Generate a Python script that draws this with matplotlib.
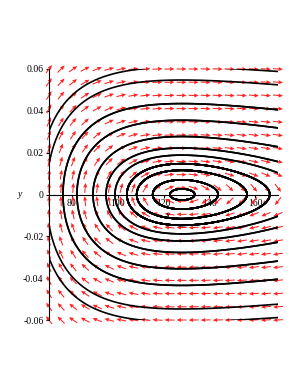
import numpy as np
import matplotlib.pyplot as plt

# phase plane: x' = y, y' = k*(x_eq/x^3 - 1/x^2)
k = 0.52
x_eq = 128.0

x_lim = [70, 170]
y_lim = [-0.06, 0.06]

# starting points of the trajectories drawn
start_x = [76.1, 82.2, 89.2, 94.9, 98.8, 104.0, 108.3, 115.3, 122.8, 70, 70]
start_y = [0, 0, 0, 0, 0, 0, 0, 0, 0, 0.0303, 0.0144]

x_ticks = [80, 100, 120, 140, 160]
y_ticks = [-0.06, -0.04, -0.02, 0, 0.02, 0.04, 0.06]
y_ticklabels = ['-0.06', '-0.04', '-0.02', '0', '0.02', '0.04', '0.06']


def field(x, y):
    return y, k * (x_eq / x**3 - 1 / x**2)


def trace(x, y, dt, n):
    xs, ys = [x], [y]
    for i in range(n):
        k1 = field(x, y)
        k2 = field(x + dt/2*k1[0], y + dt/2*k1[1])
        k3 = field(x + dt/2*k2[0], y + dt/2*k2[1])
        k4 = field(x + dt*k3[0], y + dt*k3[1])
        x = x + dt/6*(k1[0] + 2*k2[0] + 2*k3[0] + k4[0])
        y = y + dt/6*(k1[1] + 2*k2[1] + 2*k3[1] + k4[1])
        xs.append(x)
        ys.append(y)
        if x < x_lim[0] - 1 or x > x_lim[1] + 1 or abs(y) > y_lim[1] + 0.002:
            break
    return np.array(xs), np.array(ys)


fig = plt.figure(figsize=(2.98, 3.85), dpi=100)
ax = fig.add_axes([49/298, 1 - 320/385, 229/298, 251/385])

# direction field, arrows of equal screen length
gx, gy = np.meshgrid(np.linspace(x_lim[0], x_lim[1], 20), np.linspace(y_lim[0], y_lim[1], 20))
u, v = field(gx, gy)
sx = 229 / (x_lim[1] - x_lim[0])
sy = 251 / (y_lim[1] - y_lim[0])
pu, pv = u * sx, v * sy
nrm = np.hypot(pu, pv)
L = 10.0
U = L * pu / nrm / sx
V = L * pv / nrm / sy
ax.quiver(gx, gy, U, V, angles='xy', scale_units='xy', scale=1, pivot='middle',
          color='#ff2020', width=0.0045, headwidth=4, headlength=4.5, headaxislength=4,
          clip_on=False, zorder=2)

# solution curves
for x0, y0 in zip(start_x, start_y):
    for sgn in (1, -1):
        for dt in (5.0, -5.0):
            xs, ys = trace(x0, sgn * y0, dt, 6000)
            ax.plot(xs, ys, color='black', lw=1.2, zorder=3)

ax.set_xlim(x_lim)
ax.set_ylim(y_lim)

ax.spines['top'].set_visible(False)
ax.spines['right'].set_visible(False)
ax.spines['bottom'].set_position(('data', 0))
ax.spines['bottom'].set_zorder(4)
ax.spines['left'].set_zorder(4)
ax.spines['bottom'].set_linewidth(0.8)
ax.spines['left'].set_linewidth(0.8)

ax.set_xticks(x_ticks)
ax.set_xticklabels([str(t) for t in x_ticks], family='Liberation Serif', fontsize=7)
ax.set_yticks(y_ticks)
ax.set_yticklabels(y_ticklabels, family='Liberation Serif', fontsize=7)
ax.tick_params(axis='x', length=2, pad=1)
ax.tick_params(axis='y', length=2, pad=2)

fig.text(20/298, 1 - 195/385, 'y', fontsize=7, family='Liberation Serif', style='italic',
         ha='center', va='center')
ax.annotate('x', xy=(121.5, 0), xytext=(0, -12), textcoords='offset points',
            fontsize=7, family='Liberation Serif', style='italic', ha='center', va='top')

fig.savefig('out.png', dpi=100)
